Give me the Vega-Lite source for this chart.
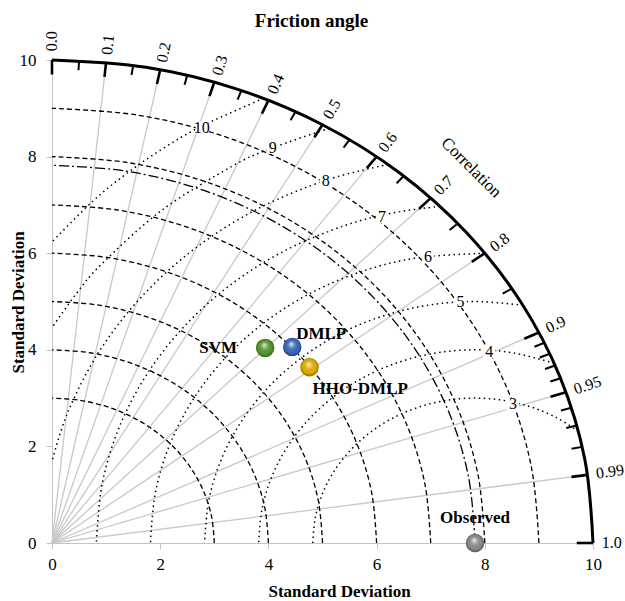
{
  "$schema": "https://vega.github.io/schema/vega-lite/v6.json",
  "width": 541,
  "height": 483,
  "autosize": {"type": "none"},
  "padding": {"left": 52, "top": 60, "right": 32, "bottom": 58},
  "background": "white",
  "title": {"text": "Friction angle", "font": "Liberation Serif", "fontSize": 19, "fontWeight": "bold", "color": "black", "anchor": "middle", "dx": -11, "offset": 0},
  "config": {
    "font": "Liberation Serif",
    "view": {"stroke": null},
    "axis": {"grid": false, "domainColor": "#c4c4c4", "tickColor": "#c4c4c4", "tickSize": 6, "labelFont": "Liberation Serif", "labelFontSize": 17, "labelColor": "black", "titleFont": "Liberation Serif", "titleFontSize": 17, "titleFontWeight": "bold", "titleColor": "black", "labelFlush": false},
    "text": {"font": "Liberation Serif"}
  },
  "datasets": {
    "std": [
      {"g": "s3", "x": 3, "y": 0}, {"g": "s3", "x": 2.954, "y": 0.521}, {"g": "s3", "x": 2.819, "y": 1.026}, {"g": "s3", "x": 2.598, "y": 1.5}, {"g": "s3", "x": 2.298, "y": 1.928}, {"g": "s3", "x": 1.928, "y": 2.298}, {"g": "s3", "x": 1.5, "y": 2.598}, {"g": "s3", "x": 1.026, "y": 2.819}, {"g": "s3", "x": 0.521, "y": 2.954}, {"g": "s3", "x": 0, "y": 3},
      {"g": "s4", "x": 4, "y": 0}, {"g": "s4", "x": 3.939, "y": 0.695}, {"g": "s4", "x": 3.759, "y": 1.368}, {"g": "s4", "x": 3.464, "y": 2}, {"g": "s4", "x": 3.064, "y": 2.571}, {"g": "s4", "x": 2.571, "y": 3.064}, {"g": "s4", "x": 2, "y": 3.464}, {"g": "s4", "x": 1.368, "y": 3.759}, {"g": "s4", "x": 0.695, "y": 3.939}, {"g": "s4", "x": 0, "y": 4},
      {"g": "s5", "x": 5, "y": 0}, {"g": "s5", "x": 4.924, "y": 0.868}, {"g": "s5", "x": 4.698, "y": 1.71}, {"g": "s5", "x": 4.33, "y": 2.5}, {"g": "s5", "x": 3.83, "y": 3.214}, {"g": "s5", "x": 3.214, "y": 3.83}, {"g": "s5", "x": 2.5, "y": 4.33}, {"g": "s5", "x": 1.71, "y": 4.698}, {"g": "s5", "x": 0.868, "y": 4.924}, {"g": "s5", "x": 0, "y": 5},
      {"g": "s6", "x": 6, "y": 0}, {"g": "s6", "x": 5.909, "y": 1.042}, {"g": "s6", "x": 5.638, "y": 2.052}, {"g": "s6", "x": 5.196, "y": 3}, {"g": "s6", "x": 4.596, "y": 3.857}, {"g": "s6", "x": 3.857, "y": 4.596}, {"g": "s6", "x": 3, "y": 5.196}, {"g": "s6", "x": 2.052, "y": 5.638}, {"g": "s6", "x": 1.042, "y": 5.909}, {"g": "s6", "x": 0, "y": 6},
      {"g": "s7", "x": 7, "y": 0}, {"g": "s7", "x": 6.894, "y": 1.216}, {"g": "s7", "x": 6.578, "y": 2.394}, {"g": "s7", "x": 6.062, "y": 3.5}, {"g": "s7", "x": 5.362, "y": 4.5}, {"g": "s7", "x": 4.5, "y": 5.362}, {"g": "s7", "x": 3.5, "y": 6.062}, {"g": "s7", "x": 2.394, "y": 6.578}, {"g": "s7", "x": 1.216, "y": 6.894}, {"g": "s7", "x": 0, "y": 7},
      {"g": "s8", "x": 8, "y": 0}, {"g": "s8", "x": 7.878, "y": 1.389}, {"g": "s8", "x": 7.518, "y": 2.736}, {"g": "s8", "x": 6.928, "y": 4}, {"g": "s8", "x": 6.128, "y": 5.142}, {"g": "s8", "x": 5.142, "y": 6.128}, {"g": "s8", "x": 4, "y": 6.928}, {"g": "s8", "x": 2.736, "y": 7.518}, {"g": "s8", "x": 1.389, "y": 7.878}, {"g": "s8", "x": 0, "y": 8},
      {"g": "s9", "x": 9, "y": 0}, {"g": "s9", "x": 8.863, "y": 1.563}, {"g": "s9", "x": 8.457, "y": 3.078}, {"g": "s9", "x": 7.794, "y": 4.5}, {"g": "s9", "x": 6.894, "y": 5.785}, {"g": "s9", "x": 5.785, "y": 6.894}, {"g": "s9", "x": 4.5, "y": 7.794}, {"g": "s9", "x": 3.078, "y": 8.457}, {"g": "s9", "x": 1.563, "y": 8.863}, {"g": "s9", "x": 0, "y": 9}
    ],
    "outer": [
      {"x": 10, "y": 0}, {"x": 9.848, "y": 1.736}, {"x": 9.397, "y": 3.42}, {"x": 8.66, "y": 5}, {"x": 7.66, "y": 6.428}, {"x": 6.428, "y": 7.66}, {"x": 5, "y": 8.66}, {"x": 3.42, "y": 9.397}, {"x": 1.736, "y": 9.848}, {"x": 0, "y": 10}
    ],
    "obs": [
      {"x": 7.82, "y": 0}, {"x": 7.701, "y": 1.358}, {"x": 7.348, "y": 2.675}, {"x": 6.772, "y": 3.91}, {"x": 5.99, "y": 5.027}, {"x": 5.027, "y": 5.99}, {"x": 3.91, "y": 6.772}, {"x": 2.675, "y": 7.348}, {"x": 1.358, "y": 7.701}, {"x": 0, "y": 7.82}
    ],
    "rms": [
      {"g": "r3", "x": 9.728, "y": 2.315}, {"g": "r3", "x": 9.32, "y": 2.598}, {"g": "r3", "x": 8.846, "y": 2.819}, {"g": "r3", "x": 8.341, "y": 2.954}, {"g": "r3", "x": 7.82, "y": 3}, {"g": "r3", "x": 7.299, "y": 2.954}, {"g": "r3", "x": 6.794, "y": 2.819}, {"g": "r3", "x": 6.32, "y": 2.598}, {"g": "r3", "x": 5.892, "y": 2.298}, {"g": "r3", "x": 5.522, "y": 1.928}, {"g": "r3", "x": 5.222, "y": 1.5}, {"g": "r3", "x": 5.001, "y": 1.026}, {"g": "r3", "x": 4.866, "y": 0.521}, {"g": "r3", "x": 4.82, "y": 0},
      {"g": "r4", "x": 9.281, "y": 3.723}, {"g": "r4", "x": 8.515, "y": 3.939}, {"g": "r4", "x": 7.82, "y": 4}, {"g": "r4", "x": 7.125, "y": 3.939}, {"g": "r4", "x": 6.452, "y": 3.759}, {"g": "r4", "x": 5.82, "y": 3.464}, {"g": "r4", "x": 5.249, "y": 3.064}, {"g": "r4", "x": 4.756, "y": 2.571}, {"g": "r4", "x": 4.356, "y": 2}, {"g": "r4", "x": 4.061, "y": 1.368}, {"g": "r4", "x": 3.881, "y": 0.695}, {"g": "r4", "x": 3.82, "y": 0},
      {"g": "r5", "x": 8.705, "y": 4.921}, {"g": "r5", "x": 7.82, "y": 5}, {"g": "r5", "x": 6.952, "y": 4.924}, {"g": "r5", "x": 6.11, "y": 4.698}, {"g": "r5", "x": 5.32, "y": 4.33}, {"g": "r5", "x": 4.606, "y": 3.83}, {"g": "r5", "x": 3.99, "y": 3.214}, {"g": "r5", "x": 3.49, "y": 2.5}, {"g": "r5", "x": 3.122, "y": 1.71}, {"g": "r5", "x": 2.896, "y": 0.868}, {"g": "r5", "x": 2.82, "y": 0},
      {"g": "r6", "x": 8.002, "y": 5.997}, {"g": "r6", "x": 6.778, "y": 5.909}, {"g": "r6", "x": 5.768, "y": 5.638}, {"g": "r6", "x": 4.82, "y": 5.196}, {"g": "r6", "x": 3.963, "y": 4.596}, {"g": "r6", "x": 3.224, "y": 3.857}, {"g": "r6", "x": 2.624, "y": 3}, {"g": "r6", "x": 2.182, "y": 2.052}, {"g": "r6", "x": 1.911, "y": 1.042}, {"g": "r6", "x": 1.82, "y": 0},
      {"g": "r7", "x": 7.171, "y": 6.97}, {"g": "r7", "x": 6.305, "y": 6.834}, {"g": "r7", "x": 5.426, "y": 6.578}, {"g": "r7", "x": 4.32, "y": 6.062}, {"g": "r7", "x": 3.32, "y": 5.362}, {"g": "r7", "x": 2.458, "y": 4.5}, {"g": "r7", "x": 1.758, "y": 3.5}, {"g": "r7", "x": 1.242, "y": 2.394}, {"g": "r7", "x": 0.926, "y": 1.216}, {"g": "r7", "x": 0.82, "y": 0},
      {"g": "r8", "x": 6.212, "y": 7.836}, {"g": "r8", "x": 5.084, "y": 7.518}, {"g": "r8", "x": 3.82, "y": 6.928}, {"g": "r8", "x": 2.678, "y": 6.128}, {"g": "r8", "x": 1.692, "y": 5.142}, {"g": "r8", "x": 0.892, "y": 4}, {"g": "r8", "x": 0.302, "y": 2.736}, {"g": "r8", "x": 0, "y": 1.688},
      {"g": "r9", "x": 5.125, "y": 8.587}, {"g": "r9", "x": 4.017, "y": 8.157}, {"g": "r9", "x": 3.32, "y": 7.794}, {"g": "r9", "x": 2.035, "y": 6.894}, {"g": "r9", "x": 0.926, "y": 5.785}, {"g": "r9", "x": 0.448, "y": 5.162}, {"g": "r9", "x": 0, "y": 4.455},
      {"g": "r10", "x": 3.91, "y": 9.204}, {"g": "r10", "x": 2.82, "y": 8.66}, {"g": "r10", "x": 2.084, "y": 8.192}, {"g": "r10", "x": 1.392, "y": 7.66}, {"g": "r10", "x": 0.749, "y": 7.071}, {"g": "r10", "x": 0, "y": 6.233}
    ],
    "rays": [
      {"c": 0.1, "x": 1, "y": 9.95}, {"c": 0.2, "x": 2, "y": 9.798}, {"c": 0.3, "x": 3, "y": 9.539}, {"c": 0.4, "x": 4, "y": 9.165}, {"c": 0.5, "x": 5, "y": 8.66}, {"c": 0.6, "x": 6, "y": 8}, {"c": 0.7, "x": 7, "y": 7.141}, {"c": 0.8, "x": 8, "y": 6}, {"c": 0.9, "x": 9, "y": 4.359}, {"c": 0.95, "x": 9.5, "y": 3.122}, {"c": 0.99, "x": 9.9, "y": 1.411}
    ],
    "major": [
      {"x": 0, "y": 10, "x2": 0, "y2": 9.7}, {"x": 1, "y": 9.95, "x2": 0.97, "y2": 9.651}, {"x": 2, "y": 9.798, "x2": 1.94, "y2": 9.504}, {"x": 3, "y": 9.539, "x2": 2.91, "y2": 9.253}, {"x": 4, "y": 9.165, "x2": 3.88, "y2": 8.89}, {"x": 5, "y": 8.66, "x2": 4.85, "y2": 8.4}, {"x": 6, "y": 8, "x2": 5.82, "y2": 7.76}, {"x": 7, "y": 7.141, "x2": 6.79, "y2": 6.927}, {"x": 8, "y": 6, "x2": 7.76, "y2": 5.82}, {"x": 9, "y": 4.359, "x2": 8.73, "y2": 4.228}, {"x": 9.5, "y": 3.122, "x2": 9.215, "y2": 3.029}, {"x": 9.9, "y": 1.411, "x2": 9.603, "y2": 1.369}, {"x": 10, "y": 0, "x2": 9.7, "y2": 0}
    ],
    "minor": [
      {"x": 0.5, "y": 9.987, "x2": 0.49, "y2": 9.788}, {"x": 1.5, "y": 9.887, "x2": 1.47, "y2": 9.689}, {"x": 2.5, "y": 9.682, "x2": 2.45, "y2": 9.489}, {"x": 3.5, "y": 9.367, "x2": 3.43, "y2": 9.18}, {"x": 4.5, "y": 8.93, "x2": 4.41, "y2": 8.752}, {"x": 5.5, "y": 8.352, "x2": 5.39, "y2": 8.185}, {"x": 6.5, "y": 7.599, "x2": 6.37, "y2": 7.447}, {"x": 7.5, "y": 6.614, "x2": 7.35, "y2": 6.482}, {"x": 8.5, "y": 5.268, "x2": 8.33, "y2": 5.163}, {"x": 9.1, "y": 4.146, "x2": 8.918, "y2": 4.063}, {"x": 9.2, "y": 3.919, "x2": 9.016, "y2": 3.841}, {"x": 9.3, "y": 3.676, "x2": 9.114, "y2": 3.602}, {"x": 9.4, "y": 3.412, "x2": 9.212, "y2": 3.344}, {"x": 9.6, "y": 2.8, "x2": 9.408, "y2": 2.744}, {"x": 9.7, "y": 2.431, "x2": 9.506, "y2": 2.382}, {"x": 9.8, "y": 1.99, "x2": 9.604, "y2": 1.95}
    ],
    "clab": [
      {"text": "0.0", "x": 0, "y": 10.18, "t": 90}, {"text": "0.1", "x": 1.016, "y": 10.109, "t": 84.26}, {"text": "0.2", "x": 2.032, "y": 9.955, "t": 78.46}, {"text": "0.3", "x": 3.048, "y": 9.692, "t": 72.54}, {"text": "0.4", "x": 4.064, "y": 9.312, "t": 66.42}, {"text": "0.5", "x": 5.08, "y": 8.799, "t": 60}, {"text": "0.6", "x": 6.096, "y": 8.128, "t": 53.13}, {"text": "0.7", "x": 7.112, "y": 7.255, "t": 45.57}, {"text": "0.8", "x": 8.128, "y": 6.096, "t": 36.87}, {"text": "0.9", "x": 9.144, "y": 4.429, "t": 25.84}, {"text": "0.95", "x": 9.652, "y": 3.172, "t": 18.19}, {"text": "0.99", "x": 10.058, "y": 1.434, "t": 8.11}, {"text": "1.0", "x": 10.16, "y": 0, "t": 0}
    ],
    "rlab": [
      {"text": "3", "x": 8.52, "y": 2.88}, {"text": "4", "x": 8.08, "y": 3.96}, {"text": "5", "x": 7.55, "y": 5.0}, {"text": "6", "x": 6.95, "y": 5.92}, {"text": "7", "x": 6.1, "y": 6.75}, {"text": "8", "x": 5.06, "y": 7.5}, {"text": "9", "x": 4.08, "y": 8.18}, {"text": "10", "x": 2.77, "y": 8.6}
    ],
    "models": [
      {"name": "SVM", "x": 3.94, "y": 4.04}, {"name": "DMLP", "x": 4.44, "y": 4.06}, {"name": "HHO-DMLP", "x": 4.76, "y": 3.64}, {"name": "Observed", "x": 7.82, "y": 0}
    ]
  },
  "encoding": {
    "x": {"field": "x", "type": "quantitative", "scale": {"domain": [0, 10], "nice": false, "zero": false}, "axis": {"values": [0, 2, 4, 6, 8, 10], "title": "Standard Deviation", "titleX": 287, "titleY": 48, "titleBaseline": "middle", "labelPadding": 7}},
    "y": {"field": "y", "type": "quantitative", "scale": {"domain": [0, 10], "nice": false, "zero": false}, "axis": {"values": [0, 2, 4, 6, 8, 10], "title": "Standard Deviation", "titleX": -34, "titleY": 242, "titleAngle": 270, "titleBaseline": "middle", "titleAlign": "center", "labelPadding": 10}}
  },
  "layer": [
    {"data": {"name": "rays"}, "mark": {"type": "rule", "color": "#c8c8c8", "strokeWidth": 1.3}, "encoding": {"x2": {"datum": 0}, "y2": {"datum": 0}}},
    {"data": {"name": "std"}, "mark": {"type": "line", "interpolate": "cardinal", "color": "black", "strokeWidth": 1.3, "strokeDash": [5, 3]}, "encoding": {"detail": {"field": "g"}, "order": {"value": null}}},
    {"data": {"name": "obs"}, "mark": {"type": "line", "interpolate": "cardinal", "color": "black", "strokeWidth": 1.3, "strokeDash": [10, 3, 2, 3]}, "encoding": {"order": {"value": null}}},
    {"data": {"name": "rms"}, "mark": {"type": "line", "interpolate": "cardinal", "color": "black", "strokeWidth": 1.5, "strokeDash": [1.5, 3.5]}, "encoding": {"detail": {"field": "g"}, "order": {"value": null}}},
    {"data": {"name": "outer"}, "mark": {"type": "line", "interpolate": "cardinal", "color": "black", "strokeWidth": 3}, "encoding": {"order": {"value": null}}},
    {"data": {"name": "major"}, "mark": {"type": "rule", "color": "black", "strokeWidth": 2.6}, "encoding": {"x2": {"field": "x2"}, "y2": {"field": "y2"}}},
    {"data": {"name": "minor"}, "mark": {"type": "rule", "color": "black", "strokeWidth": 2}, "encoding": {"x2": {"field": "x2"}, "y2": {"field": "y2"}}},
    {"data": {"name": "clab"}, "mark": {"type": "text", "font": "Liberation Serif", "align": "left", "baseline": "middle", "fontSize": 16, "color": "black"}, "encoding": {"text": {"field": "text"}, "angle": {"field": "t", "type": "quantitative", "scale": {"domain": [0, 90], "range": [0, -90]}}}},
    {"data": {"name": "rlab"}, "mark": {"type": "square", "filled": true, "color": "white", "opacity": 1, "size": 150}},
    {"data": {"name": "rlab"}, "mark": {"type": "text", "font": "Liberation Serif", "align": "center", "baseline": "middle", "fontSize": 16, "color": "black"}, "encoding": {"text": {"field": "text"}}},
    {"data": {"values": [{"text": "Correlation", "x": 7.75, "y": 7.77}]}, "mark": {"type": "text", "font": "Liberation Serif", "align": "center", "baseline": "middle", "fontSize": 17, "angle": 45, "color": "black"}, "encoding": {"text": {"field": "text"}}},
    {"data": {"name": "models"}, "mark": {"type": "point", "filled": true, "opacity": 1, "size": 340, "strokeWidth": 0}, "encoding": {"color": {"field": "name", "type": "nominal", "scale": {"domain": ["SVM", "DMLP", "HHO-DMLP", "Observed"], "range": ["#5a9b34", "#3b6dbf", "#e6b000", "#8e8e8e"]}, "legend": null}}},
    {"data": {"name": "models"}, "mark": {"type": "point", "filled": true, "opacity": 1, "size": 340, "strokeWidth": 0, "fill": {"gradient": "radial", "x1": 0.45, "y1": 0.32, "r1": 0, "x2": 0.5, "y2": 0.5, "r2": 0.5, "stops": [{"offset": 0, "color": "rgba(255,255,255,0.85)"}, {"offset": 0.35, "color": "rgba(255,255,255,0.2)"}, {"offset": 0.7, "color": "rgba(0,0,0,0)"}, {"offset": 1, "color": "rgba(0,0,0,0.35)"}]}}},
    {"data": {"name": "models"}, "transform": [{"filter": "datum.name === 'SVM'"}], "mark": {"type": "text", "font": "Liberation Serif", "align": "right", "baseline": "middle", "dx": -28, "fontSize": 17, "fontWeight": "bold", "color": "black"}, "encoding": {"text": {"field": "name"}}},
    {"data": {"name": "models"}, "transform": [{"filter": "datum.name === 'DMLP'"}], "mark": {"type": "text", "font": "Liberation Serif", "align": "left", "baseline": "middle", "dx": 4, "dy": -13, "fontSize": 17, "fontWeight": "bold", "color": "black"}, "encoding": {"text": {"field": "name"}}},
    {"data": {"name": "models"}, "transform": [{"filter": "datum.name === 'HHO-DMLP'"}], "mark": {"type": "text", "font": "Liberation Serif", "align": "left", "baseline": "middle", "dx": 3, "dy": 22, "fontSize": 17, "fontWeight": "bold", "color": "black"}, "encoding": {"text": {"field": "name"}}},
    {"data": {"name": "models"}, "transform": [{"filter": "datum.name === 'Observed'"}], "mark": {"type": "text", "font": "Liberation Serif", "align": "center", "baseline": "middle", "dy": -25, "fontSize": 17, "fontWeight": "bold", "color": "black"}, "encoding": {"text": {"field": "name"}}}
  ]
}
